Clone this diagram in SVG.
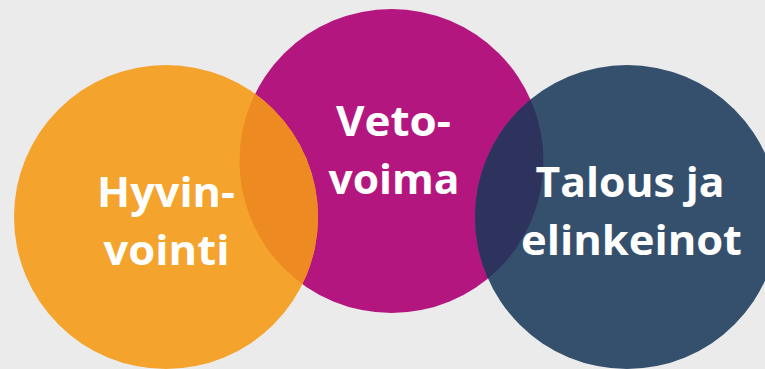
<svg xmlns="http://www.w3.org/2000/svg" width="765" height="369" viewBox="0 0 765 369">
  <style>
    .lbl { font-family: "Open Sans", Lato, "Liberation Sans", sans-serif; font-weight: 700; font-size: 42px; fill: #ffffff; text-anchor: middle; }
  </style>
  <defs>
    <clipPath id="clipMag"><circle cx="391.5" cy="161" r="152"/></clipPath>
  </defs>
  <rect width="765" height="369" fill="#ebebeb"/>
  <g id="node-vetovoima">
    <circle cx="391.5" cy="161" r="152" fill="#b3177f"/>
  </g>
  <g id="node-hyvinvointi">
    <circle cx="166" cy="217" r="152" fill="#f4a32c"/>
  </g>
  <g id="node-talous">
    <circle cx="627" cy="217" r="152" fill="#35506d"/>
  </g>
  <g id="overlaps">
    <circle cx="166" cy="217" r="152" fill="#ee8a22" clip-path="url(#clipMag)"/>
    <circle cx="627" cy="217" r="152" fill="#2e335e" clip-path="url(#clipMag)"/>
  </g>
  <g id="labels">
    <text class="lbl" x="166" y="207" textLength="138" lengthAdjust="spacingAndGlyphs">Hyvin-</text>
    <text class="lbl" x="166.5" y="265" textLength="126" lengthAdjust="spacingAndGlyphs">vointi</text>
    <text class="lbl" x="393.5" y="136" textLength="115" lengthAdjust="spacingAndGlyphs">Veto-</text>
    <text class="lbl" x="394" y="194" textLength="131" lengthAdjust="spacingAndGlyphs">voima</text>
    <text class="lbl" x="630" y="197" textLength="189" lengthAdjust="spacingAndGlyphs">Talous ja</text>
    <text class="lbl" x="631.5" y="255" textLength="221" lengthAdjust="spacingAndGlyphs">elinkeinot</text>
  </g>
  <g id="connectors"/>
</svg>
